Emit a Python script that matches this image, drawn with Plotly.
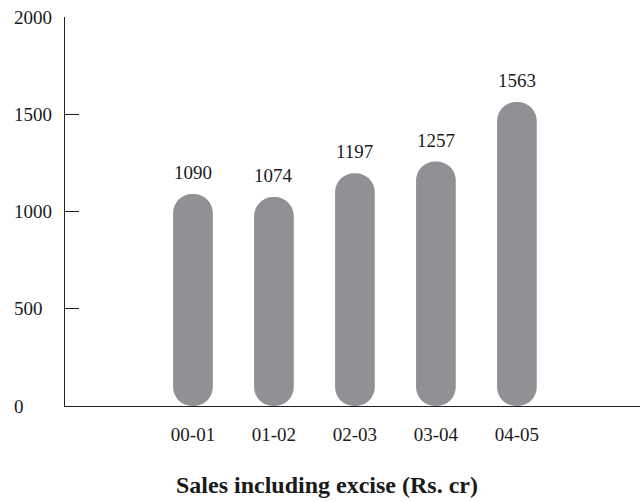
import plotly.graph_objects as go

categories = ["00-01", "01-02", "02-03", "03-04", "04-05"]
sales = [1090, 1074, 1197, 1257, 1563]
y_ticks = [0, 500, 1000, 1500, 2000]
title_text = "Sales including excise (Rs. cr)"

BAR_COLOR = "#909095"
FONT = "Liberation Serif"
TXT = "#1a1a1a"

fig = go.Figure()
# explicit base -> plotly rounds both ends of each bar (pill shape)
fig.add_trace(go.Bar(x=categories, y=sales, base=[0] * len(sales), width=0.49,
                     marker=dict(color=BAR_COLOR, cornerradius="50%", line=dict(width=0)),
                     hoverinfo="skip"))

annotations = []
for c, v in zip(categories, sales):
    annotations.append(dict(x=c, y=v, xref="x", yref="y", text=str(v), showarrow=False,
                            yanchor="bottom", yshift=9,
                            font=dict(family=FONT, size=19, color=TXT)))
for t in y_ticks:
    annotations.append(dict(x=-53 / 575, y=t, xref="paper", yref="y", text=str(t),
                            showarrow=False, xanchor="left", yanchor="middle",
                            font=dict(family=FONT, size=19, color=TXT)))
annotations.append(dict(x=(327 - 65) / 575, y=-79 / 389, xref="paper", yref="paper",
                        text="<b>" + title_text + "</b>", showarrow=False,
                        xanchor="center", yanchor="middle",
                        font=dict(family=FONT, size=24, color=TXT)))

fig.update_layout(
    width=642, height=502,
    margin=dict(l=65, r=2, t=17, b=96),
    paper_bgcolor="white", plot_bgcolor="white",
    showlegend=False,
    annotations=annotations,
    xaxis=dict(type="category", range=[-1.58, 5.52], showgrid=False, zeroline=False,
               showline=True, linecolor="#222222", linewidth=1.3, ticks="",
               ticklabelstandoff=11,
               tickfont=dict(family=FONT, size=19, color=TXT)),
    yaxis=dict(range=[0, 2000], showgrid=False, zeroline=False, showline=True,
               linecolor="#222222", linewidth=1.3, tickvals=y_ticks, ticks="inside",
               ticklen=14, tickwidth=1.3, tickcolor="#222222", showticklabels=False),
)

fig.write_html("out.html")
